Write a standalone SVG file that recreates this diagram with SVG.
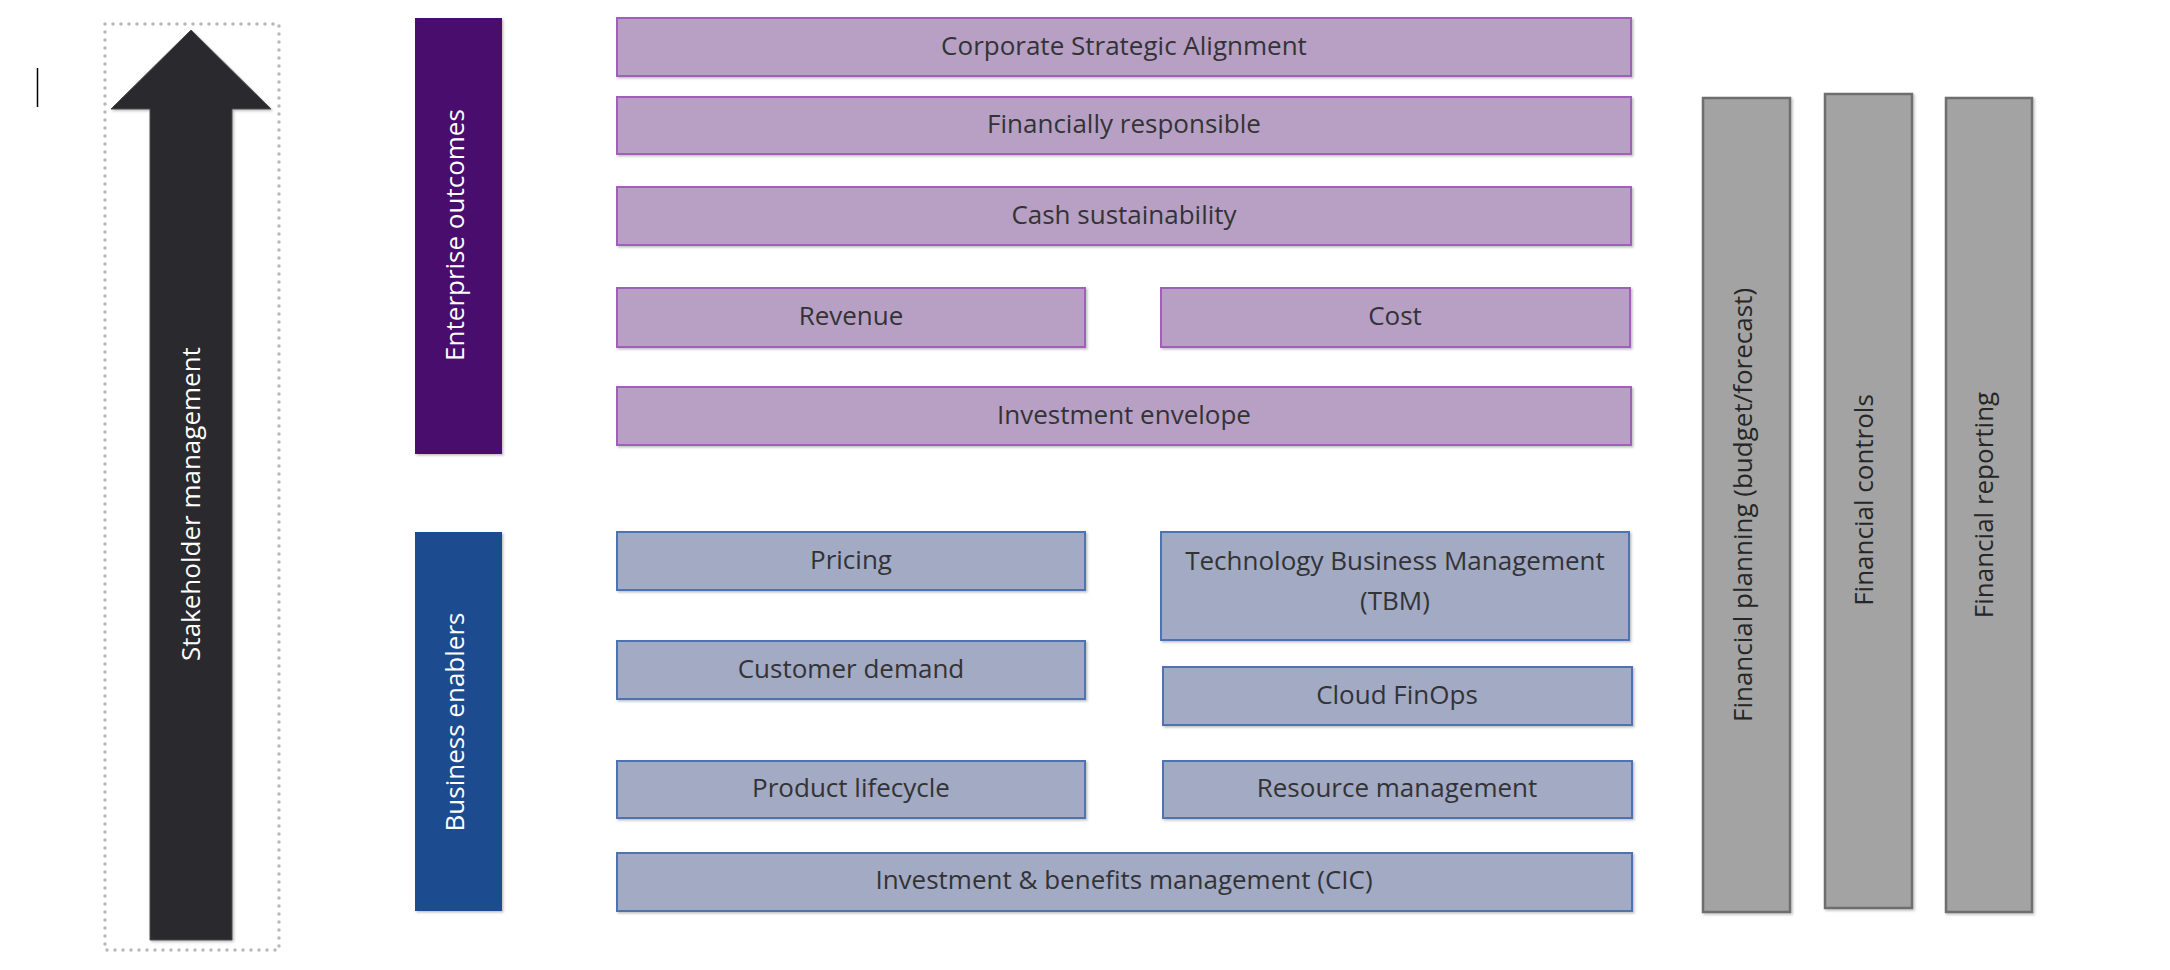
<svg xmlns="http://www.w3.org/2000/svg" width="2170" height="970" viewBox="0 0 2170 970">
<defs>
<filter id="sh" x="-5%" y="-5%" width="110%" height="115%">
<feDropShadow dx="1.5" dy="1.5" stdDeviation="1" flood-color="#000" flood-opacity="0.25"/>
</filter>
<style>
.t{font-family:"Open Sans","Liberation Sans",sans-serif;font-size:26px;}
.pbox{fill:#B7A0C4;stroke:#A05EB8;stroke-width:2;}
.bbox{fill:#A2AAC4;stroke:#4F72B0;stroke-width:2;}
.gbar{fill:#A3A3A3;stroke:#6E6E6E;stroke-width:2.5;}
.dark{fill:#333336;text-anchor:middle;}
.gtxt{fill:#262626;text-anchor:middle;}
.wtxt{fill:#FFFFFF;text-anchor:middle;}
</style>
</defs>
<rect width="2170" height="970" fill="#FFFFFF"/>

<line x1="37.5" y1="68" x2="37.5" y2="107" stroke="#000" stroke-width="1.5"/>

<g id="stakeholder">
<rect x="105" y="24" width="174" height="926" fill="none" stroke="#B8B8B8" stroke-width="3.5" stroke-dasharray="0 8" stroke-linecap="round"/>
<polygon points="191,30 271,109 232,109 232,940 150,940 150,109 111,109" fill="#2A2B2D" stroke="#4A4A4A" stroke-width="1" filter="url(#sh)"/>
<text class="t wtxt" transform="translate(200,504) rotate(-90)">Stakeholder management</text>
</g>

<g id="enterprise-outcomes">
<rect x="415" y="18" width="87" height="436" fill="#4A0F6D" filter="url(#sh)"/>
<text class="t wtxt" transform="translate(464,235) rotate(-90)">Enterprise outcomes</text>
</g>

<g id="business-enablers">
<rect x="415" y="532" width="87" height="379" fill="#1F4B8F" filter="url(#sh)"/>
<text class="t wtxt" transform="translate(464,722) rotate(-90)">Business enablers</text>
</g>

<g id="corporate-strategic-alignment">
<rect class="pbox" x="617" y="18" width="1014" height="58" filter="url(#sh)"/>
<text class="t dark" x="1124" y="55">Corporate Strategic Alignment</text>
</g>
<g id="financially-responsible">
<rect class="pbox" x="617" y="97" width="1014" height="57" filter="url(#sh)"/>
<text class="t dark" x="1124" y="133">Financially responsible</text>
</g>
<g id="cash-sustainability">
<rect class="pbox" x="617" y="187" width="1014" height="58" filter="url(#sh)"/>
<text class="t dark" x="1124" y="224">Cash sustainability</text>
</g>
<g id="revenue">
<rect class="pbox" x="617" y="288" width="468" height="59" filter="url(#sh)"/>
<text class="t dark" x="851" y="325">Revenue</text>
</g>
<g id="cost">
<rect class="pbox" x="1161" y="288" width="469" height="59" filter="url(#sh)"/>
<text class="t dark" x="1395" y="325">Cost</text>
</g>
<g id="investment-envelope">
<rect class="pbox" x="617" y="387" width="1014" height="58" filter="url(#sh)"/>
<text class="t dark" x="1124" y="424">Investment envelope</text>
</g>

<g id="pricing">
<rect class="bbox" x="617" y="532" width="468" height="58" filter="url(#sh)"/>
<text class="t dark" x="851" y="569">Pricing</text>
</g>
<g id="tbm">
<rect class="bbox" x="1161" y="532" width="468" height="108" filter="url(#sh)"/>
<text class="t dark" x="1395" y="570">Technology Business Management</text>
<text class="t dark" x="1395" y="610">(TBM)</text>
</g>
<g id="customer-demand">
<rect class="bbox" x="617" y="641" width="468" height="58" filter="url(#sh)"/>
<text class="t dark" x="851" y="678">Customer demand</text>
</g>
<g id="cloud-finops">
<rect class="bbox" x="1163" y="667" width="469" height="58" filter="url(#sh)"/>
<text class="t dark" x="1397" y="704">Cloud FinOps</text>
</g>
<g id="product-lifecycle">
<rect class="bbox" x="617" y="761" width="468" height="57" filter="url(#sh)"/>
<text class="t dark" x="851" y="797">Product lifecycle</text>
</g>
<g id="resource-management">
<rect class="bbox" x="1163" y="761" width="469" height="57" filter="url(#sh)"/>
<text class="t dark" x="1397" y="797">Resource management</text>
</g>
<g id="investment-benefits">
<rect class="bbox" x="617" y="853" width="1015" height="58" filter="url(#sh)"/>
<text class="t dark" x="1124" y="889">Investment &amp; benefits management (CIC)</text>
</g>

<g id="financial-planning">
<rect class="gbar" x="1703" y="98" width="87" height="814" filter="url(#sh)"/>
<text class="t gtxt" transform="translate(1752,505) rotate(-90)">Financial planning (budget/forecast)</text>
</g>
<g id="financial-controls">
<rect class="gbar" x="1825" y="94" width="87" height="814" filter="url(#sh)"/>
<text class="t gtxt" transform="translate(1873,500) rotate(-90)">Financial controls</text>
</g>
<g id="financial-reporting">
<rect class="gbar" x="1946" y="98" width="86" height="814" filter="url(#sh)"/>
<text class="t gtxt" transform="translate(1993,505) rotate(-90)">Financial reporting</text>
</g>

<g id="connectors"></g>
</svg>
